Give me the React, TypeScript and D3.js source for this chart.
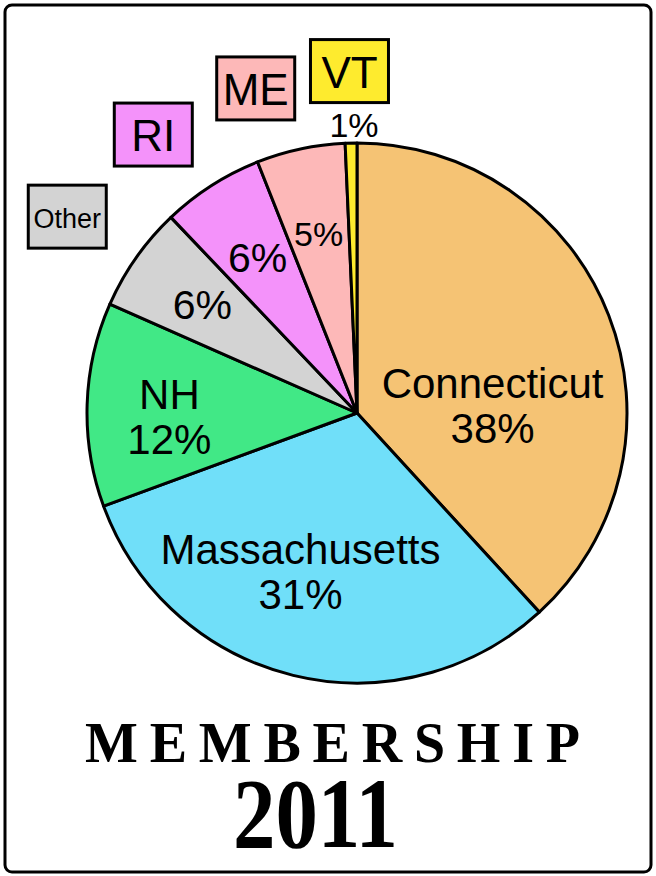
import React, { useEffect, useRef } from 'react';
import * as d3 from 'd3';

const states = ['Connecticut', 'Massachusetts', 'NH', 'Other', 'RI', 'ME', 'VT'];
const shares = [38.2, 31.2, 12.2, 6.3, 6.1, 5.3, 0.7];
const pctLabels = ['38%', '31%', '12%', '6%', '6%', '5%', '1%'];
const colors = ['#F5C374', '#70DFF9', '#41E886', '#D3D3D3', '#F492FA', '#FDB8B8', '#FEEB2E'];
// which slices get their name in a box outside the pie
const boxed = [false, false, false, true, true, true, true];

const W = 656;
const H = 876;

const MembershipPie: React.FC = () => {
  const svgRef = useRef<SVGSVGElement>(null);

  useEffect(() => {
    if (!svgRef.current) return;
    const svg = d3.select(svgRef.current);
    svg.selectAll('*').remove();

    // frame
    svg.append('rect')
      .attr('x', 5).attr('y', 5)
      .attr('width', W - 10).attr('height', H - 9)
      .attr('rx', 7)
      .attr('fill', '#fff')
      .attr('stroke', '#000')
      .attr('stroke-width', 3);

    const cx = 357;
    const cy = 413;
    const R = 270;

    const data = states.map((s, i) => ({ name: s, value: shares[i], i }));
    const pie = d3.pie<typeof data[number]>().sort(null).value((d) => d.value);
    const arcs = pie(data);

    const arc = d3.arc<d3.PieArcDatum<typeof data[number]>>().innerRadius(0).outerRadius(R);

    const g = svg.append('g').attr('transform', `translate(${cx},${cy})`);

    g.selectAll('path.slice')
      .data(arcs)
      .join('path')
      .attr('class', 'slice')
      .attr('d', arc)
      .attr('fill', (d) => colors[d.data.i])
      .attr('stroke', '#000')
      .attr('stroke-width', 3)
      .attr('stroke-linejoin', 'round');

    const font = 'Liberation Sans, Arial, sans-serif';
    const polar = (a: number, r: number) => [r * Math.sin(a), -r * Math.cos(a)];

    // where inside its slice each label sits: fraction of the sweep, fraction of the radius
    const inside = [[0.63, 0.503], [0.554, 0.62], [0.44, 0.695], [0.5, 0.7], [0.5, 0.684], [0.5, 0.68]];
    // outer boxes: angle shift (rad), radius
    const outer: Record<number, [number, number]> = {
      3: [-0.017, 350],
      4: [-0.063, 345],
      5: [-0.092, 340],
      6: [0.0, 342],
    };

    arcs.forEach((d) => {
      const i = d.data.i;
      const sweep = d.endAngle - d.startAngle;
      const mid = (d.startAngle + d.endAngle) / 2;
      if (!boxed[i]) {
        const [f, rf] = inside[i];
        const [x, y] = polar(d.startAngle + sweep * f, R * rf);
        const t = g.append('text')
          .attr('x', x).attr('y', y)
          .attr('text-anchor', 'middle')
          .attr('font-family', font)
          .attr('font-size', 42)
          .attr('fill', '#000');
        t.append('tspan').attr('x', x).attr('dy', -7).text(d.data.name);
        t.append('tspan').attr('x', x).attr('dy', 45).text(pctLabels[i]);
      } else if (i === 6) {
        const [px, py] = polar(mid, R + 6);
        g.append('text')
          .attr('x', px + 3).attr('y', py)
          .attr('text-anchor', 'middle')
          .attr('font-family', font)
          .attr('font-size', 34)
          .text(pctLabels[i]);
      } else {
        const [f, rf] = inside[i];
        const [px, py] = polar(d.startAngle + sweep * f, R * rf);
        const fs = i === 5 ? 34 : 41;
        g.append('text')
          .attr('x', px).attr('y', py + fs * 0.36)
          .attr('text-anchor', 'middle')
          .attr('font-family', font)
          .attr('font-size', fs)
          .text(pctLabels[i]);
      }
      if (!boxed[i]) return;
      // boxed name
      const [shift, rb] = outer[i];
      const [bx, by] = polar(mid + shift, rb);
      const bw = 78;
      const bh = 63;
      g.append('rect')
        .attr('x', bx - bw / 2).attr('y', by - bh / 2)
        .attr('width', bw).attr('height', bh)
        .attr('fill', colors[i])
        .attr('stroke', '#000')
        .attr('stroke-width', 3);
      const small = d.data.name.length > 3;
      g.append('text')
        .attr('x', bx).attr('y', by + (small ? 11 : 16.5))
        .attr('text-anchor', 'middle')
        .attr('font-family', font)
        .attr('font-size', small ? 27 : 44)
        .text(d.data.name);
    });

    // title
    svg.append('text')
      .attr('x', 85).attr('y', 762)
      .attr('font-family', 'Liberation Serif, serif')
      .attr('font-weight', 'bold')
      .attr('font-size', 56)
      .attr('textLength', 495)
      .attr('lengthAdjust', 'spacing')
      .text('MEMBERSHIP');

    svg.append('text')
      .attr('x', 233).attr('y', 847)
      .attr('font-family', 'Liberation Serif, serif')
      .attr('font-weight', 'bold')
      .attr('font-size', 99)
      .attr('textLength', 165)
      .attr('lengthAdjust', 'spacingAndGlyphs')
      .text('2011');
  }, []);

  return (
    <svg
      ref={svgRef}
      width={W}
      height={H}
      style={{ position: 'absolute', left: 0, top: 0, background: '#fff' }}
    />
  );
};

export default function App() {
  return <MembershipPie />;
}
